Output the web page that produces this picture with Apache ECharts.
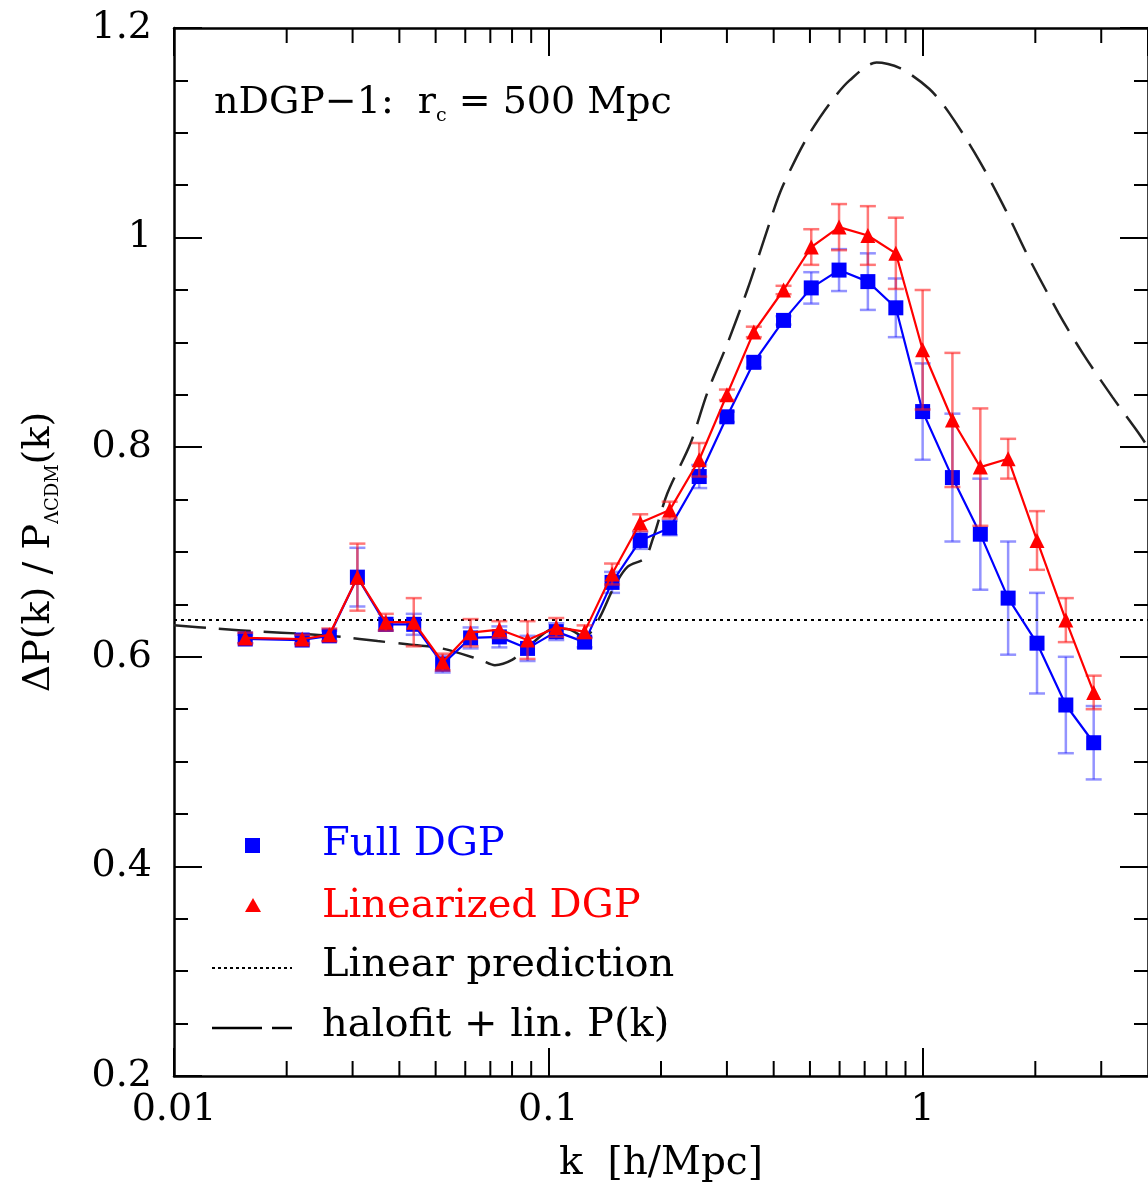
<!DOCTYPE html>
<html><head><meta charset="utf-8">
<script src="https://cdn.jsdelivr.net/npm/echarts@6/dist/echarts.min.js"></script>
<style>html,body{margin:0;padding:0;background:#fff}#c{width:1148px;height:1192px}</style>
</head><body><div id="c"></div>
<script>
// ---- data ----
const kBins = [0.0155, 0.0220, 0.0260, 0.0309, 0.0368, 0.0437, 0.0522, 0.0620, 0.0740, 0.0880,
  0.1050, 0.1250, 0.1480, 0.1760, 0.2110, 0.2530, 0.3000, 0.3540, 0.4250, 0.5040,
  0.5980, 0.7140, 0.8480, 1.0000, 1.2010, 1.4260, 1.6920, 2.0210, 2.4130, 2.8640];
const fullDGP = [0.617, 0.616, 0.620, 0.676, 0.631, 0.631, 0.593, 0.618, 0.619, 0.608,
  0.624, 0.614, 0.671, 0.711, 0.723, 0.772, 0.829, 0.881, 0.921, 0.952,
  0.969, 0.958, 0.933, 0.834, 0.771, 0.717, 0.656, 0.613, 0.554, 0.518];
const fullDGPErr = [0.004, 0.004, 0.005, 0.028, 0.006, 0.010, 0.008, 0.010, 0.010, 0.012,
  0.008, 0.005, 0.010, 0.008, 0.007, 0.011, 0.005, 0.005, 0.004, 0.015,
  0.020, 0.027, 0.028, 0.046, 0.061, 0.053, 0.054, 0.048, 0.046, 0.035];
const linDGP = [0.618, 0.617, 0.621, 0.676, 0.633, 0.633, 0.595, 0.623, 0.626, 0.616,
  0.628, 0.624, 0.679, 0.728, 0.740, 0.788, 0.850, 0.910, 0.950, 0.991,
  1.010, 1.002, 0.985, 0.893, 0.826, 0.781, 0.789, 0.711, 0.635, 0.566];
const linDGPErr = [0.005, 0.004, 0.006, 0.032, 0.008, 0.023, 0.008, 0.013, 0.008, 0.018,
  0.009, 0.006, 0.010, 0.008, 0.008, 0.016, 0.005, 0.005, 0.004, 0.017,
  0.022, 0.028, 0.034, 0.057, 0.064, 0.056, 0.019, 0.028, 0.021, 0.016];
const halofitK = [0.010, 0.013, 0.017, 0.022, 0.028, 0.035, 0.042, 0.052, 0.066, 0.072,
  0.080, 0.088, 0.104, 0.114, 0.125, 0.136, 0.150, 0.163, 0.181, 0.190,
  0.208, 0.240, 0.266, 0.301, 0.340, 0.377, 0.416, 0.461, 0.500, 0.565,
  0.638, 0.753, 0.867, 1.041, 1.177, 1.414, 1.668, 1.920, 2.307, 2.673,
  3.211, 3.766, 4.000];
const halofitVal = [0.630, 0.627, 0.624, 0.622, 0.619, 0.615, 0.612, 0.608, 0.597, 0.592,
  0.597, 0.609, 0.627, 0.626, 0.619, 0.635, 0.667, 0.686, 0.694, 0.712,
  0.756, 0.804, 0.852, 0.899, 0.950, 0.998, 1.043, 1.077, 1.100, 1.128,
  1.150, 1.167, 1.162, 1.142, 1.119, 1.074, 1.026, 0.981, 0.928, 0.890,
  0.848, 0.814, 0.800];
const linearPredK = [0.01, 4];
const linearPredVal = [0.635, 0.635];
const xMinorTicks = [0.02, 0.03, 0.04, 0.05, 0.06, 0.07, 0.08, 0.09,
  0.2, 0.3, 0.4, 0.5, 0.6, 0.7, 0.8, 0.9, 2, 3];
const xTickLabels = ['0.01', '0.1', '1'];

// ---- chart ----
const FONT = 'DejaVu Serif';
const chart = echarts.init(document.getElementById('c'), null, {renderer: 'canvas'});

function errBarItem(color) {
  return function (params, api) {
    const x = api.value(0), lo = api.value(1), hi = api.value(2);
    const p1 = api.coord([x, lo]), p2 = api.coord([x, hi]);
    const w = 8;
    const st = {stroke: color, lineWidth: 2.5};
    return {type: 'group', children: [
      {type: 'line', shape: {x1: p1[0], y1: p1[1], x2: p2[0], y2: p2[1]}, style: st},
      {type: 'line', shape: {x1: p1[0] - w, y1: p1[1], x2: p1[0] + w, y2: p1[1]}, style: st},
      {type: 'line', shape: {x1: p2[0] - w, y1: p2[1], x2: p2[0] + w, y2: p2[1]}, style: st}
    ]};
  };
}

const xAxisCommon = {
  type: 'log', logBase: 10, min: 0.01, max: 4,
  axisLine: {show: true, lineStyle: {color: '#000', width: 2.5}},
  axisTick: {show: true, inside: true, length: 28, lineStyle: {color: '#000', width: 2}},
  splitLine: {show: false}
};
const yAxisCommon = {
  type: 'value', min: 0.2, max: 1.2, interval: 0.2,
  axisLine: {show: true, lineStyle: {color: '#000', width: 2.5}},
  axisTick: {show: true, inside: true, length: 28, lineStyle: {color: '#000', width: 2}},
  minorTick: {show: true, splitNumber: 4, length: 14, lineStyle: {color: '#000', width: 2}},
  splitLine: {show: false}
};

const option = {
  backgroundColor: '#fff',
  animation: false,
  grid: {left: 174, right: -5, top: 28, bottom: 116, containLabel: false},
  xAxis: [
    Object.assign({}, xAxisCommon, {
      position: 'bottom',
      name: 'k  [h/Mpc]', nameLocation: 'middle', nameGap: 68,
      nameTextStyle: {fontFamily: FONT, fontSize: 39, color: '#000'},
      axisLabel: {
        show: true, margin: 15, fontFamily: FONT, fontSize: 38, color: '#000',
        showMaxLabel: false,
        formatter: function (v) {
          const lg = Math.log10(v), r = Math.round(lg);
          if (Math.abs(lg - r) > 1e-6) return '';
          const idx = r + 2;
          return (idx >= 0 && idx < xTickLabels.length) ? xTickLabels[idx] : '';
        }
      }
    }),
    Object.assign({}, xAxisCommon, {position: 'top', axisLabel: {show: false}})
  ],
  yAxis: [
    Object.assign({}, yAxisCommon, {
      position: 'left',
      name: '{a|ΔP(k) / P}{s|ΛCDM}{a|(k)}', nameLocation: 'middle', nameGap: 112, nameRotate: 90,
      nameTextStyle: {
        fontFamily: FONT, color: '#000',
        rich: {
          a: {fontFamily: FONT, fontSize: 38, color: '#000', lineHeight: 46, verticalAlign: 'middle'},
          s: {fontFamily: FONT, fontSize: 18, color: '#000', lineHeight: 19, verticalAlign: 'bottom'}
        }
      },
      axisLabel: {show: true, margin: 22, fontFamily: FONT, fontSize: 38, color: '#000'}
    }),
    Object.assign({}, yAxisCommon, {position: 'right', axisLabel: {show: false}})
  ],
  graphic: [
    {type: 'text', left: 214, top: 84, silent: true,
      style: {
        text: '{a|nDGP−1:  r}{s|c}{a| = 500 Mpc}',
        rich: {
          a: {fontFamily: FONT, fontSize: 38, fill: '#000', lineHeight: 46, verticalAlign: 'middle'},
          s: {fontFamily: FONT, fontSize: 19, fill: '#000', lineHeight: 19, verticalAlign: 'bottom'}
        }
      }},
    // legend
    {type: 'rect', shape: {x: 245, y: 838, width: 15, height: 15}, style: {fill: '#0000ff'}, silent: true},
    {type: 'text', left: 322, top: 825, silent: true,
      style: {text: 'Full DGP', fontFamily: FONT, fontSize: 40, fill: '#0000ff'}},
    {type: 'polygon', shape: {points: [[253, 898], [245, 912], [261, 912]]}, style: {fill: '#ff0000'}, silent: true},
    {type: 'text', left: 322, top: 887, silent: true,
      style: {text: 'Linearized DGP', fontFamily: FONT, fontSize: 40, fill: '#ff0000'}},
    {type: 'line', shape: {x1: 212, y1: 968, x2: 292, y2: 968}, silent: true,
      style: {stroke: '#000', lineWidth: 2, lineDash: [3, 3]}},
    {type: 'text', left: 322, top: 946, silent: true,
      style: {text: 'Linear prediction', fontFamily: FONT, fontSize: 40, fill: '#000'}},
    {type: 'line', shape: {x1: 212, y1: 1028, x2: 262, y2: 1028}, silent: true,
      style: {stroke: '#000', lineWidth: 2.5}},
    {type: 'line', shape: {x1: 272, y1: 1028, x2: 292, y2: 1028}, silent: true,
      style: {stroke: '#000', lineWidth: 2.5}},
    {type: 'text', left: 322, top: 1006, silent: true,
      style: {text: 'halofit + lin. P(k)', fontFamily: FONT, fontSize: 40, fill: '#000'}}
  ],
  series: [
    {
      name: 'minor x ticks', type: 'custom', silent: true, clip: false, z: 5,
      data: xMinorTicks.map(k => [k, 0.2]),
      encode: {x: 0, y: 1},
      renderItem: function (params, api) {
        const k = api.value(0);
        const b = api.coord([k, 0.2]), t = api.coord([k, 1.2]);
        const st = {stroke: '#000', lineWidth: 2};
        return {type: 'group', children: [
          {type: 'line', shape: {x1: b[0], y1: b[1], x2: b[0], y2: b[1] - 15}, style: st},
          {type: 'line', shape: {x1: t[0], y1: t[1], x2: t[0], y2: t[1] + 15}, style: st}
        ]};
      }
    },
    {
      name: 'Linear prediction', type: 'line', symbol: 'none', silent: true,
      data: linearPredK.map((k, i) => [k, linearPredVal[i]]),
      lineStyle: {color: '#000', width: 2, type: [3, 4]}
    },
    {
      name: 'halofit + lin. P(k)', type: 'line', symbol: 'none', smooth: 0.3, silent: true,
      data: halofitK.map((k, i) => [k, halofitVal[i]]),
      lineStyle: {color: '#222', width: 2.5, type: [32, 13]}
    },
    {
      name: 'Full DGP err', type: 'custom', silent: true, z: 3,
      data: kBins.map((k, i) => [k, fullDGP[i] - fullDGPErr[i], fullDGP[i] + fullDGPErr[i]]),
      encode: {x: 0, y: [1, 2]},
      renderItem: errBarItem('rgba(40,40,255,0.5)')
    },
    {
      name: 'Full DGP', type: 'line', symbol: 'rect', symbolSize: 15, z: 4,
      data: kBins.map((k, i) => [k, fullDGP[i]]),
      itemStyle: {color: '#0000ff'},
      lineStyle: {color: '#0000ff', width: 2.2}
    },
    {
      name: 'Linearized DGP err', type: 'custom', silent: true, z: 5,
      data: kBins.map((k, i) => [k, linDGP[i] - linDGPErr[i], linDGP[i] + linDGPErr[i]]),
      encode: {x: 0, y: [1, 2]},
      renderItem: errBarItem('rgba(255,30,30,0.6)')
    },
    {
      name: 'Linearized DGP', type: 'line', symbol: 'triangle', symbolSize: 15, z: 6,
      data: kBins.map((k, i) => [k, linDGP[i]]),
      itemStyle: {color: '#ff0000'},
      lineStyle: {color: '#ff0000', width: 2.2}
    }
  ]
};
chart.setOption(option);
</script>
</body></html>
